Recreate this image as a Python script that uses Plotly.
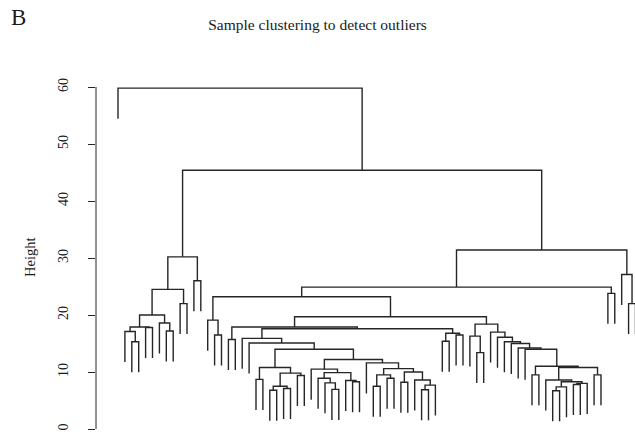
import plotly.graph_objects as go

# ---- dendrogram data: nodes are (merge_height, left, right); 0 marks a sample leaf ----
HANG = 5.35  # leaf drop below parent merge (R hclust hang)

subtree_left = (30.2,
                (24.5,
                 (20.0,
                  (17.9, (17.1, 0, (15.3, 0, 0)), (17.8, 0, 0)),
                  (18.6, 0, (17.2, 0, 0))),
                 (22.0, 0, 0)),
                (26.0, 0, 0))

sub_k1 = (10.8, (8.7, 0, 0), (9.8, (7.5, (6.8, 0, 0), (7.1, 0, 0)), (9.4, 0, 0)))
sub_m1 = (10.5, 0, (9.9, (8.9, 0, (8.1, 0, (6.95, 0, 0))), (8.5, 0, (8.3, 0, 0))))
sub_w = (10.0, (8.2, 0, 0), (8.6, 0, (7.7, (6.9, 0, 0), 0)))
sub_m2 = (11.6, 0, (10.6, (9.5, (7.5, 0, 0), (8.9, 0, 0)), sub_w))
sub_m = (12.2, sub_m1, sub_m2)
sub_k = (14.0, sub_k1, sub_m)
sub_j = (15.1, 0, sub_k)
sub_i = (15.9, 0, sub_j)
sub_h = (17.6, sub_i, (16.8, (15.4, 0, 0), (16.5, 0, 0)))
sub_g = (17.9, (15.7, 0, 0), sub_h)

sub_s = (8.3, (7.4, (6.7, 0, 0), 0), (8.0, (7.8, 0, 0), 0))
sub_r = (8.6, 0, sub_s)
sub_q = (10.8, sub_r, (9.5, 0, 0))
sub_p = (11.0, (9.5, 0, 0), sub_q)
sub_stair = (17.0, 0, (16.1, 0, (15.3, 0, (15.0, 0, (14.2, 0, (14.0, 0, sub_p))))))
sub_n = (18.4, (16.3, 0, (13.4, 0, 0)), sub_stair)

sub_f = (19.7, sub_g, sub_n)
sub_d = (23.2, (19.1, 0, (16.5, 0, 0)), sub_f)
sub_e = (23.8, 0, 0)
sub_c = (24.9, sub_d, sub_e)
sub_b = (31.4, sub_c, (27.1, 0, (22.0, 0, 0)))
sub_a = (45.4, subtree_left, sub_b)
root = (59.8, 0, sub_a)

y_ticks = [0, 10, 20, 30, 40, 50, 60]
title_text = "Sample clustering to detect outliers"
y_label = "Height"
panel_label = "B"

# ---- compute coordinates ----
xs, ys = [], []
counter = [0]


def place(node):
    """returns (x position, height) of node; leaves get height None"""
    if not isinstance(node, tuple):
        x = counter[0]
        counter[0] += 1
        return x, None
    h, left, right = node
    xl, hl = place(left)
    xr, hr = place(right)
    yl = hl if hl is not None else h - HANG
    yr = hr if hr is not None else h - HANG
    xs.extend([xl, xl, xr, xr, None])
    ys.extend([yl, h, h, yr, None])
    return (xl + xr) / 2.0, h


place(root)
n_leaves = counter[0]

fig = go.Figure()
fig.add_trace(go.Scatter(x=xs, y=ys, mode="lines",
                         line=dict(color="#262626", width=1.4),
                         hoverinfo="skip", showlegend=False))

# R-style axis line spanning only the tick range
fig.add_shape(type="line", xref="paper", yref="y", x0=0, x1=0,
              y0=y_ticks[0], y1=y_ticks[-1], line=dict(color="#262626", width=1))

serif = "Liberation Serif, Times New Roman, serif"
fig.update_layout(
    template="none",
    width=635, height=444,
    margin=dict(l=96, r=0, t=80, b=0, autoexpand=False),
    paper_bgcolor="white", plot_bgcolor="white",
    font=dict(family=serif, color="#1a1a1a"),
    title=dict(text=title_text, x=0.5, xanchor="center", y=1 - 25 / 444, yanchor="middle",
               automargin=False,
               font=dict(family=serif, size=15.5, color="#1a1a1a")),
    xaxis=dict(range=[-3.19, n_leaves - 1.07], visible=False, fixedrange=True,
               automargin=False),
    yaxis=dict(range=[-2.63, 61.23], tickvals=y_ticks, ticktext=[str(v) for v in y_ticks],
               ticks="outside", ticklen=7, tickwidth=1, tickcolor="#262626",
               showline=False, showgrid=False, zeroline=False, tickangle=-90,
               ticklabelstandoff=14, automargin=False, fixedrange=True,
               tickfont=dict(family=serif, size=14, color="#1a1a1a")),
    annotations=[
        dict(text=y_label, textangle=-90, xref="paper", yref="paper",
             x=(30 - 96) / 539, y=0.511, xanchor="center", yanchor="middle",
             showarrow=False, font=dict(family=serif, size=14.5, color="#1a1a1a")),
        dict(text=panel_label, xref="paper", yref="paper",
             x=(18 - 96) / 539, y=(444 - 18) / 364, xanchor="center", yanchor="middle",
             showarrow=False, font=dict(family=serif, size=23, color="#1a1a1a")),
    ],
)

fig.write_html("out.html", config={"displayModeBar": False},
               post_script="document.body.style.margin='0px';")
